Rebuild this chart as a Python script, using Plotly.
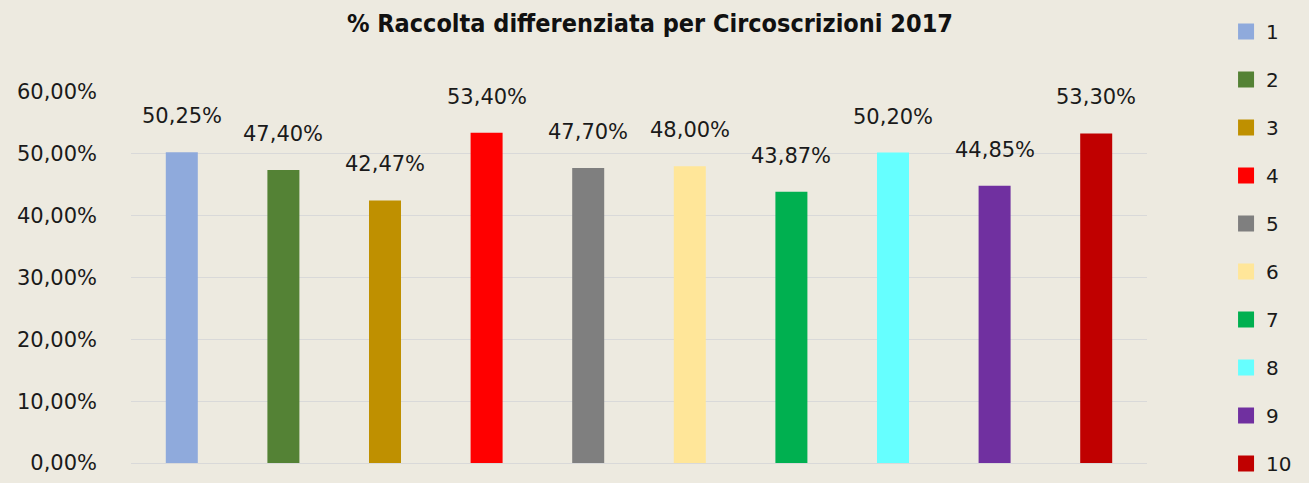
import plotly.graph_objects as go

# Circoscrizioni and share of separate waste collection (%), 2017
circoscrizioni = ["1", "2", "3", "4", "5", "6", "7", "8", "9", "10"]
percentuali = [50.25, 47.40, 42.47, 53.40, 47.70, 48.00, 43.87, 50.20, 44.85, 53.30]
colori = ["#8FAADC", "#548235", "#BF9000", "#FF0000", "#7F7F7F",
          "#FFE699", "#00B050", "#66FFFF", "#7030A0", "#C00000"]

y_ticks = [0, 10, 20, 30, 40, 50, 60]


def it_pct(v):
    return f"{v:.2f}".replace(".", ",") + "%"


y_tick_text = [it_pct(v) for v in y_ticks]

BG = "#EDEAE0"
FONT = "DejaVu Sans, sans-serif"
FONT_TITLE = "DejaVu Sans Condensed, DejaVu Sans, sans-serif"

fig = go.Figure()

for i, (nome, valore, colore) in enumerate(zip(circoscrizioni, percentuali, colori)):
    fig.add_trace(go.Bar(
        x=[nome], y=[valore], name=nome, legendgroup=nome,
        marker=dict(color=colore, line=dict(width=0)),
        width=0.315, showlegend=False,
        hoverinfo="skip",
    ))
    # legend entry with a larger square swatch
    fig.add_trace(go.Scatter(
        x=[None], y=[None], name=nome, legendgroup=nome, mode="markers",
        marker=dict(symbol="square", size=16, color=colore),
        hoverinfo="skip",
    ))
    # numeric category names would be read as indices, so place by index
    fig.add_annotation(
        x=i, y=valore, xref="x", yref="y",
        text=it_pct(valore),
        showarrow=False, yshift=36,
        font=dict(family=FONT, size=21, color="#1a1a1a"),
    )

fig.update_layout(
    width=1309, height=483,
    margin=dict(l=131, r=162, t=92, b=20),
    paper_bgcolor=BG, plot_bgcolor=BG,
    barmode="overlay",
    title=dict(
        text="<b>% Raccolta differenziata per Circoscrizioni 2017</b>",
        x=0.4965, xanchor="center", y=0.952, yanchor="middle",
        font=dict(family=FONT_TITLE, size=25, color="#111111"),
    ),
    xaxis=dict(
        type="category",
        categoryorder="array", categoryarray=circoscrizioni,
        range=[-0.5, len(circoscrizioni) - 0.5],
        showticklabels=False, showgrid=False, zeroline=False,
        showline=False, ticks="",
    ),
    yaxis=dict(
        range=[0, 60], tickvals=y_ticks, ticktext=y_tick_text,
        showgrid=True, gridcolor="#D9D9D9", gridwidth=1.3,
        zeroline=True, zerolinecolor="#D9D9D9", zerolinewidth=1.3,
        showline=False, ticks="", ticklen=0, ticklabelstandoff=33,
        tickfont=dict(family=FONT, size=21, color="#1a1a1a"),
        automargin=False,
    ),
    legend=dict(
        x=1.0778, xanchor="left", y=1.194, yanchor="top",
        bgcolor="rgba(0,0,0,0)", itemsizing="trace",
        font=dict(family=FONT, size=20, color="#1a1a1a"),
        tracegroupgap=19, itemclick=False, maxheight=700,
    ),
    showlegend=True,
)

fig.write_html("out.html")
